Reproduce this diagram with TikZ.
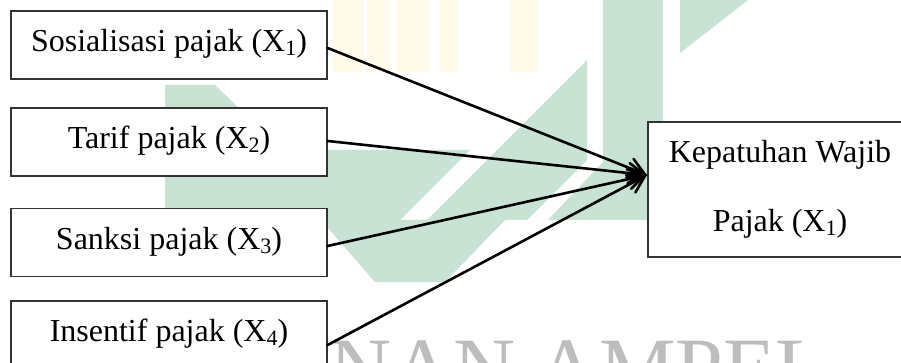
\documentclass[tikz,border=0pt]{standalone}
\usepackage{fontspec}
\setmainfont{Liberation Serif}
\usetikzlibrary{arrows.meta}

\definecolor{logogreen}{HTML}{C8E2D4}
\definecolor{logoyellow}{HTML}{FEFBEA}
\definecolor{logogray}{HTML}{BDBDBD}
\definecolor{framegray}{HTML}{333333}

% lowered index digit, as in X_1
\newcommand{\idx}[1]{\raisebox{-4pt}{\fontsize{22}{22}\selectfont #1}}

\tikzset{
  varbox/.style={draw=framegray, line width=1.2pt, fill=white,
    minimum width=316pt, minimum height=68pt, inner sep=0pt,
    font=\fontsize{32}{38}\selectfont, text height=20pt, text depth=7pt},
  resultbox/.style={draw=framegray, line width=1.2pt, fill=white,
    minimum width=264pt, minimum height=135pt, inner sep=0pt,
    align=center, font=\fontsize{32}{69}\selectfont},
  link/.style={line width=2.6pt, line cap=round,
    -{Straight Barb[length=16pt,width=20pt,line cap=round]}},
  logopart/.style={fill=logogreen},
  logostripe/.style={fill=logoyellow}
}

\begin{document}
\begin{tikzpicture}[x=1pt,y=-1pt]
  \clip (0,0) rectangle (901,363);
  \fill[white] (0,0) rectangle (901,363);

  % faded seal in the background
  \fill[logostripe] (333,0) rectangle (363,72);
  \fill[logostripe] (367,0) rectangle (390,72);
  \fill[logostripe] (397,0) rectangle (430,72);
  \fill[logostripe] (440,0) rectangle (457,72);
  \fill[logostripe] (510,0) rectangle (537,72);
  \fill[logopart] (165,85) -- (215,85) -- (282,150) -- (470,150)
                  -- (400,220) -- (165,220) -- cycle;
  \fill[logopart] (321,220) -- (505,220) -- (445,282) -- (375,282) -- cycle;
  \fill[logopart] (427,220) -- (587,60) -- (587,160) -- (527,220) -- cycle;
  \fill[logopart] (603,0) -- (663,0) -- (663,220) -- (548,220) -- (603,162) -- cycle;
  \fill[logopart] (680,0) -- (748,0) -- (680,53) -- cycle;
  \node[font=\fontsize{86}{90}\selectfont, text=logogray, anchor=base west,
        inner sep=0pt] (seal) at (329,397) {NAN AMPEL};

  % independent variables
  \node[varbox] (b1) at (169,45)    {Sosialisasi pajak (X\idx{1})};
  \node[varbox] (b2) at (169,142)   {Tarif pajak (X\idx{2})};
  \node[varbox] (b3) at (169,242.5) {Sanksi pajak (X\idx{3})};
  \node[varbox] (b4) at (169,335)   {Insentif pajak (X\idx{4})};

  % dependent variable
  \node[resultbox] (kep) at (780,189.5) {Kepatuhan Wajib\\Pajak (X\idx{1})};

  \coordinate (tip) at (647,175);

  \draw[link] ([yshift=-3pt]b1.east) -- (tip);
  \draw[link] ([yshift=1pt]b2.east) -- (tip);
  \draw[link] ([yshift=-3.5pt]b3.east) -- (tip);
  \draw[link] ([yshift=-10pt]b4.east) -- (tip);
\end{tikzpicture}
\end{document}
